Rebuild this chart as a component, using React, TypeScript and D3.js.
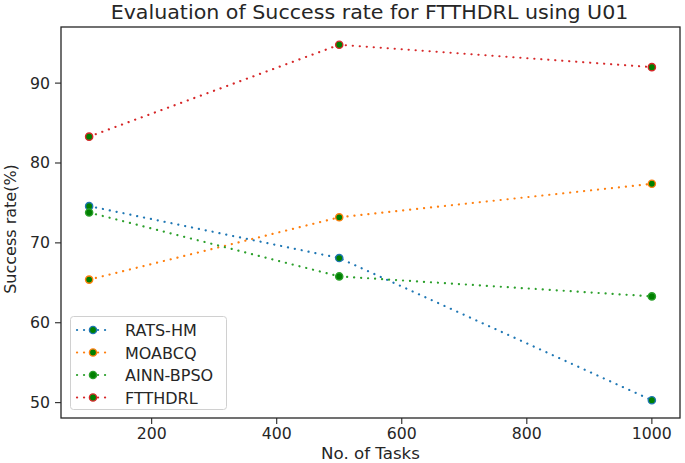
import React from "react";
import * as d3 from "d3";

const tasks = [100, 500, 1000];
const seriesNames = ["RATS-HM", "MOABCQ", "AINN-BPSO", "FTTHDRL"];
const ratsHm = [74.6, 68.1, 50.3];
const moabcq = [65.4, 73.2, 77.4];
const ainnBpso = [73.8, 65.8, 63.3];
const ftthdrl = [83.3, 94.8, 92.0];
const seriesColors = ["#1f77b4", "#ff7f0e", "#2ca02c", "#d62728"];
const xTicks = [200, 400, 600, 800, 1000];
const yTicks = [50, 60, 70, 80, 90];

const W = 685, H = 463;
const M = { left: 61, right: 680, top: 27, bottom: 418 };
const FONT = "DejaVu Sans, sans-serif";

function T({ x, y, children, size, anchor = "middle", rotate = 0, sx = 1 }: any) {
  return (
    <g transform={`translate(${x},${y}) rotate(${rotate}) scale(${sx},1)`}>
      <text fontFamily={FONT} fontSize={size} textAnchor={anchor} fill="#262626">{children}</text>
    </g>
  );
}

const DOT = { strokeWidth: 2.2, strokeDasharray: "0.1,6.9", strokeLinecap: "round" as const };

export default function App() {
  const all = [ratsHm, moabcq, ainnBpso, ftthdrl];
  const xExt = d3.extent(tasks) as [number, number];
  const xPad = (xExt[1] - xExt[0]) * 0.05;
  const yVals = all.flat();
  const yExt = d3.extent(yVals) as [number, number];
  const yPad = (yExt[1] - yExt[0]) * 0.05;
  const x = d3.scaleLinear().domain([xExt[0] - xPad, xExt[1] + xPad]).range([M.left, M.right]);
  const y = d3.scaleLinear().domain([yExt[0] - yPad, yExt[1] + yPad]).range([M.bottom, M.top]);
  const line = d3.line<[number, number]>().x(d => x(d[0])).y(d => y(d[1]));

  return (
    <div style={{ position: "fixed", left: 0, top: 0 }}>
      <svg width={W} height={H} style={{ display: "block", background: "#fff" }}>
        <rect x={0} y={0} width={W} height={H} fill="#fff" />
        {all.map((vals, i) => (
          <g key={seriesNames[i]}>
            <path d={line(tasks.map((t, j) => [t, vals[j]]) as [number, number][]) || ""}
              fill="none" stroke={seriesColors[i]} {...DOT} />
            {tasks.map((t, j) => (
              <circle key={j} cx={x(t)} cy={y(vals[j])} r={3.6} fill="#008000" stroke={seriesColors[i]} strokeWidth={1.4} />
            ))}
          </g>
        ))}
        <rect x={M.left} y={M.top} width={M.right - M.left} height={M.bottom - M.top} fill="none" stroke="#262626" strokeWidth={1.3} />
        {xTicks.map(t => (
          <g key={t}>
            <line x1={x(t)} x2={x(t)} y1={M.bottom} y2={M.bottom + 6} stroke="#262626" strokeWidth={1.1} />
            <T x={x(t)} y={M.bottom + 21} size={15} sx={1.05}>{t}</T>
          </g>
        ))}
        {yTicks.map(t => (
          <g key={t}>
            <line x1={M.left - 6} x2={M.left} y1={y(t)} y2={y(t)} stroke="#262626" strokeWidth={1.1} />
            <T x={M.left - 11} y={y(t) + 5.5} size={15} sx={1.05} anchor="end">{t}</T>
          </g>
        ))}
        <T x={(M.left + M.right) / 2} y={459} size={16} sx={1.04}>No. of Tasks</T>
        <T x={16} y={229} size={16} rotate={-90}>Success rate(%)</T>
        <T x={(M.left + M.right) / 2 - 1} y={19} size={20} sx={1.03}>Evaluation of Success rate for FTTHDRL using U01</T>
        <g>
          <rect x={70.5} y={316.5} width={156} height={93} rx={3} fill="#fff" fillOpacity={0.8} stroke="#d0d0d0" strokeWidth={1} />
          {seriesNames.map((n, i) => {
            const ly = 330 + i * 22.5;
            return (
              <g key={n}>
                <line x1={77} x2={108} y1={ly} y2={ly} stroke={seriesColors[i]} {...DOT} />
                <circle cx={93} cy={ly} r={3.6} fill="#008000" stroke={seriesColors[i]} strokeWidth={1.4} />
                <T x={125} y={ly + 6} size={16} anchor="start">{n}</T>
              </g>
            );
          })}
        </g>
      </svg>
    </div>
  );
}
